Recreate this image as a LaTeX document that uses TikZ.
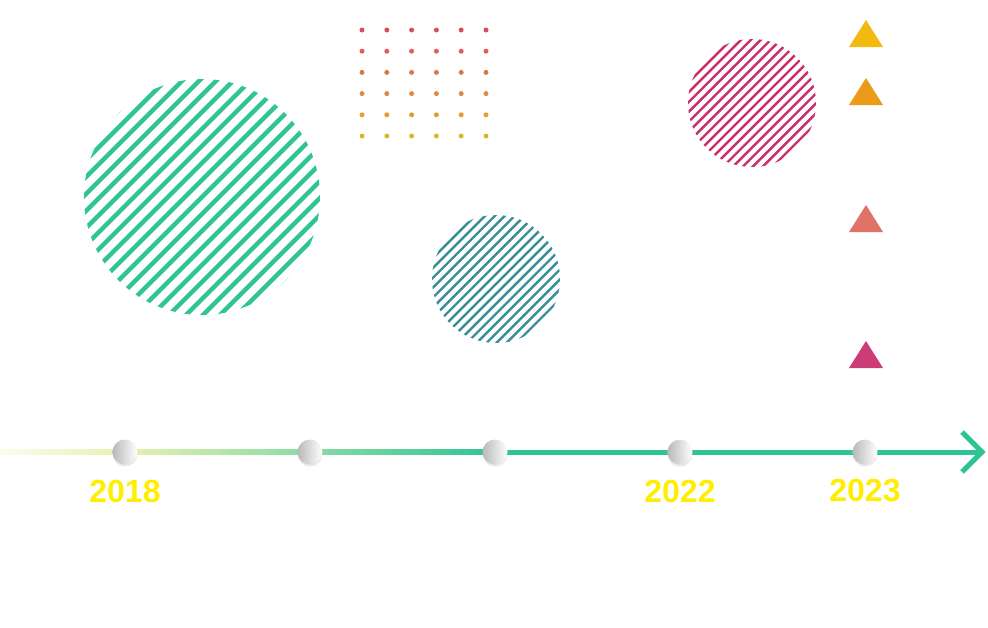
\documentclass[tikz,border=0pt]{standalone}
\usepackage{fontspec}
\setmainfont{Liberation Sans}
\usetikzlibrary{shadows}
\definecolor{mint}{HTML}{2EC495}
\definecolor{petrol}{HTML}{3A8E9A}
\definecolor{berry}{HTML}{C9306A}
\definecolor{dottop}{HTML}{DC4C5E}
\definecolor{dotbot}{HTML}{DDB52A}
\definecolor{triA}{HTML}{F2B90F}
\definecolor{triB}{HTML}{EB9A1A}
\definecolor{triC}{HTML}{E07267}
\definecolor{triD}{HTML}{CC3D78}
\definecolor{yearyellow}{HTML}{FFEE00}
\definecolor{pale}{HTML}{FCFCEE}
\definecolor{lime}{HTML}{E4F2B0}
\begin{document}
\begin{tikzpicture}[x=1pt,y=-1pt,
    knob/.style={circle, minimum size=25pt, inner sep=0pt, left color=gray!55, right color=white,
        drop shadow={opacity=0.18, shadow xshift=0pt, shadow yshift=-2pt}},
    year/.style={text=yearyellow, font=\fontsize{32}{32}\selectfont\bfseries}]
    \useasboundingbox (0,0) rectangle (988,627);
    % striped discs
    \begin{scope}[shift={(202,197)}]
        \clip (0,0) circle (118pt);
        \foreach \d in {-85,-76.5,...,86}
            \draw[mint, line width=4.5pt] (\d-125,\d+125) -- (\d+125,\d-125);
    \end{scope}
    \begin{scope}[shift={(496,279)}]
        \clip (0,0) circle (64pt);
        \foreach \d in {-47,-42.05,...,48}
            \draw[petrol, line width=2.4pt] (\d-70,\d+70) -- (\d+70,\d-70);
    \end{scope}
    \begin{scope}[shift={(752,103)}]
        \clip (0,0) circle (64pt);
        \foreach \d in {-47,-42.05,...,48}
            \draw[berry, line width=2.4pt] (\d-70,\d+70) -- (\d+70,\d-70);
    \end{scope}
    % dot grid
    \foreach \j in {0,...,5}
        \foreach \i in {0,...,5} {
            \pgfmathtruncatemacro{\mix}{100-20*\j}
            \fill[dottop!\mix!dotbot] (362+24.8*\i,30+21.2*\j) circle (2.5pt);
        }
    % triangles
    \foreach \y/\c in {20/triA,78/triB,205/triC,341/triD}
        \fill[\c] (866,\y) -- (883,\y+27) -- (849,\y+27) -- cycle;
    % timeline
    \coordinate (tlstart) at (0,452);
    \coordinate (tlfirst) at (125,452);
    \coordinate (tlmid) at (495,452);
    \coordinate (tlend) at (982,452);
    \shade[left color=pale, right color=lime] ([yshift=2.5pt]tlstart) rectangle ([yshift=-2.5pt]tlfirst);
    \shade[left color=lime, right color=mint] ([yshift=2.5pt]tlfirst) rectangle ([yshift=-2.5pt]tlmid);
    \draw[mint, line width=5pt] (tlmid) -- (tlend);
    \draw[mint, line width=5pt, line join=miter]
        ([xshift=-20pt,yshift=20pt]tlend) -- (tlend) -- ([xshift=-20pt,yshift=-20pt]tlend);
    \foreach \x [count=\k] in {125,310,495,680,865}
        \node[knob] (k\k) at (\x,452) {};
    \node[year] (y2018) at ([yshift=-39pt]k1) {2018};
    \node[year] (y2022) at ([yshift=-39pt]k4) {2022};
    \node[year] (y2023) at ([yshift=-39pt]k5) {2023};
\end{tikzpicture}
\end{document}
